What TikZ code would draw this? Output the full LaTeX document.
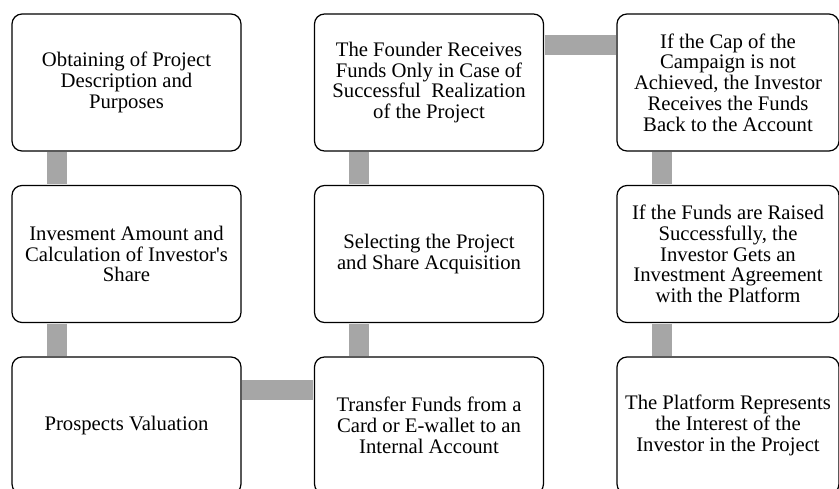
\documentclass[tikz,border=0pt]{standalone}
\usepackage{fontspec}
\setmainfont{Liberation Serif}
\definecolor{barGray}{HTML}{A6A6A6}
\begin{document}
\begin{tikzpicture}[x=1pt,y=-1pt,
  stepbox/.style={draw=black, line width=1.2pt, rounded corners=10pt, fill=white,
    minimum width=229pt, minimum height=137pt, align=center, inner sep=0pt,
    font=\fontsize{20.7pt}{20.8pt}\selectfont},
  lastcol/.style={minimum width=222pt},
  bar/.style={draw=barGray, line width=20pt, shorten <=0.6pt, shorten >=0.6pt}]
\useasboundingbox (0,0) rectangle (839,488);
\clip (0,0) rectangle (839,488);

% first column
\node[stepbox] (a1) at (126.5,82.5) {Obtaining of Project\\Description and\\Purposes};
\node[stepbox] (a2) at (126.5,254) {Invesment Amount and\\Calculation of Investor\textquotesingle s\\Share};
\node[stepbox] (a3) at (126.5,425.5) {Prospects Valuation};

% second column
\node[stepbox] (b1) at (429,82.5) {The Founder Receives\\Funds Only in Case of\\Successful\ \ Realization\\of the Project};
\node[stepbox] (b2) at (429,254) {Selecting the Project\\and Share Acquisition};
\node[stepbox] (b3) at (429,425.5) {Transfer Funds from a\\Card or E-wallet to an\\Internal Account};

% third column
\node[stepbox,lastcol] (c1) at (728,82.5) {If the Cap of the\\Campaign is not\\Achieved, the Investor\\Receives the Funds\\Back to the Account};
\node[stepbox,lastcol] (c2) at (728,254) {If the Funds are Raised\\Successfully, the\\Investor Gets an\\Investment Agreement\\with the Platform};
\node[stepbox,lastcol] (c3) at (728,425.5) {The Platform Represents\\the Interest of the\\Investor in the Project};

% connecting bars
\draw[bar] ([xshift=45.5pt]a1.south west) -- ([xshift=45.5pt]a2.north west);
\draw[bar] ([xshift=45.5pt]a2.south west) -- ([xshift=45.5pt]a3.north west);
\draw[bar] ([yshift=-33.5pt]a3.north east) -- ([yshift=-33.5pt]b3.north west);
\draw[bar] ([xshift=45pt]b3.north west) -- ([xshift=45pt]b2.south west);
\draw[bar] ([xshift=45pt]b2.north west) -- ([xshift=45pt]b1.south west);
\draw[bar] ([yshift=-31.5pt]b1.north east) -- ([yshift=-31.5pt]c1.north west);
\draw[bar] ([xshift=45.5pt]c1.south west) -- ([xshift=45.5pt]c2.north west);
\draw[bar] ([xshift=45.5pt]c2.south west) -- ([xshift=45.5pt]c3.north west);
\end{tikzpicture}
\end{document}
